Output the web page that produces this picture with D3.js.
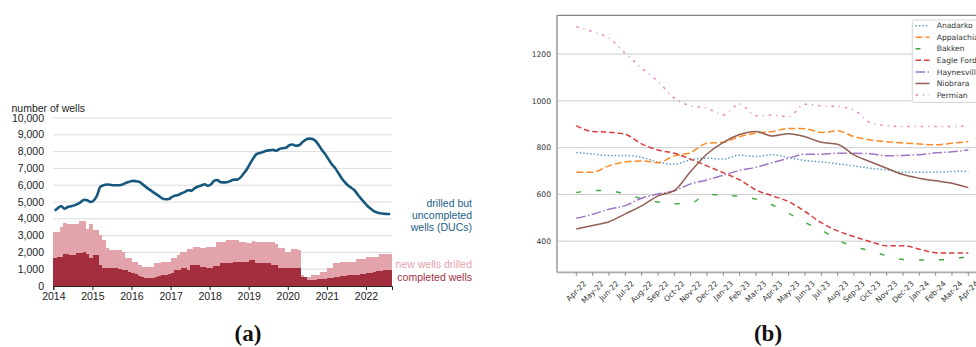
<!DOCTYPE html>
<html>
<head>
<meta charset="utf-8">
<script src="https://cdn.jsdelivr.net/npm/d3@7"></script>
<style>
  body { margin: 0; background: #fff; }
  svg { display: block; }
</style>
</head>
<body>
<svg id="chart" width="976" height="347"></svg>
<script>
// ---------- Panel (a): monthly well counts, Jan 2014 – Aug 2022 ----------
const startYear = 2014;
const yearTicks = [2014, 2015, 2016, 2017, 2018, 2019, 2020, 2021, 2022];
const wellTicks = [0, 1000, 2000, 3000, 4000, 5000, 6000, 7000, 8000, 9000, 10000];

// drilled but uncompleted wells
const ducs = [
  4480, 4650, 4760, 4600, 4700, 4750, 4800, 4880, 5000, 5130, 5110, 5000,
  5100, 5400, 5900, 6000, 6040, 6030, 6000, 6000, 6000, 6060, 6150, 6210,
  6260, 6230, 6200, 6050, 5900, 5750, 5620, 5480, 5350, 5220, 5160, 5180,
  5300, 5380, 5420, 5520, 5600, 5700, 5680, 5820, 5920, 5980, 6060, 5960,
  6050, 6280, 6300, 6180, 6170, 6180, 6250, 6330, 6330, 6450, 6700, 6950,
  7300, 7620, 7850, 7920, 7980, 8050, 8080, 8100, 8050, 8150, 8200, 8230,
  8380, 8420, 8350, 8380, 8550, 8700, 8770, 8760, 8650, 8400, 8100, 7850,
  7550, 7250, 7050, 6750, 6450, 6200, 6000, 5850, 5700, 5450, 5200, 4980,
  4760, 4600, 4460, 4380, 4330, 4300, 4290, 4280
];

// completed wells per month (lower bar)
const completed = [
  1650, 1700, 1700, 1880, 1880, 1850, 1850, 1940, 1940, 2040, 1880, 1650,
  1840, 1840, 1250, 1080, 1050, 1050, 1050, 1050, 1030, 960, 950, 860,
  760, 700, 600, 540, 460, 460, 470, 520, 600, 650, 660, 700,
  760, 950, 960, 1050, 1050, 960, 1250, 1250, 1250, 1150, 1150, 1050,
  1050, 1190, 1190, 1350, 1350, 1350, 1350, 1450, 1450, 1450, 1450, 1450,
  1550, 1550, 1350, 1350, 1390, 1390, 1390, 1250, 1250, 1090, 1090, 1050,
  1050, 1050, 1050, 1050, 560, 520, 360, 350, 360, 390, 400, 420,
  480, 500, 520, 540, 600, 620, 640, 650, 660, 670, 720, 740,
  760, 780, 850, 880, 910, 940, 950, 950
];

// new wells drilled per month (stacked on top)
const drilled = [
  1580, 1530, 1830, 1850, 1820, 1820, 1820, 1730, 1930, 1830, 1490, 2020,
  1490, 1490, 1790, 1660, 1190, 1090, 1090, 1090, 1110, 1080, 740, 830,
  690, 750, 650, 610, 690, 690, 680, 830, 750, 800, 790, 750,
  890, 700, 890, 990, 990, 1240, 950, 1090, 1090, 1090, 1090, 1290,
  1290, 1150, 1450, 1290, 1290, 1390, 1390, 1290, 1290, 1190, 1190, 1090,
  990, 1130, 1290, 1290, 1250, 1250, 1250, 1390, 1230, 1150, 1150, 990,
  990, 1130, 1130, 1090, 95, 36, 196, 305, 295, 265, 453, 433,
  572, 552, 829, 809, 848, 828, 808, 798, 788, 917, 867, 847,
  986, 966, 896, 866, 975, 945, 935, 935
];

// ---------- Panel (b): DUCs by region, Apr-22 – Apr-24 ----------
const monthLabels = [
  "Apr-22", "May-22", "Jun-22", "Jul-22", "Aug-22", "Sep-22", "Oct-22", "Nov-22", "Dec-22",
  "Jan-23", "Feb-23", "Mar-23", "Apr-23", "May-23", "Jun-23", "Jul-23", "Aug-23", "Sep-23",
  "Oct-23", "Nov-23", "Dec-23", "Jan-24", "Feb-24", "Mar-24", "Apr-24"
];
const regionTicks = [400, 600, 800, 1000, 1200];
const anadarko   = [779, 773, 766, 766, 759, 738, 729, 748, 755, 751, 768, 762, 770, 758, 745, 739, 731, 722, 712, 705, 695, 695, 695, 698, 700];
const appalachia = [695, 695, 722, 739, 743, 736, 765, 779, 819, 823, 847, 862, 869, 882, 881, 865, 872, 847, 833, 825, 820, 816, 812, 819, 825];
const bakken     = [608, 617, 616, 602, 582, 568, 560, 562, 600, 596, 592, 580, 555, 520, 480, 448, 405, 378, 358, 338, 322, 320, 320, 324, 335];
const eagleFord  = [894, 869, 866, 857, 816, 790, 776, 751, 722, 693, 662, 619, 594, 569, 527, 479, 444, 420, 398, 381, 381, 366, 351, 349, 349];
const haynesville= [498, 515, 537, 552, 584, 602, 616, 645, 662, 682, 703, 716, 736, 755, 772, 772, 776, 776, 774, 765, 767, 770, 778, 782, 790];
const niobrara   = [452, 467, 483, 517, 551, 594, 616, 698, 773, 823, 856, 869, 850, 860, 847, 823, 815, 769, 740, 712, 685, 669, 658, 648, 629];
const permian    = [1318, 1296, 1268, 1204, 1140, 1083, 1012, 979, 969, 940, 987, 936, 940, 933, 986, 979, 976, 961, 907, 894, 890, 890, 890, 890, 893];

const regionNames = ["Anadarko", "Appalachia", "Bakken", "Eagle Ford", "Haynesville", "Niobrara", "Permian"];
const regionValues = [anadarko, appalachia, bakken, eagleFord, haynesville, niobrara, permian];

const svg = d3.select("#chart");

// ===================== Panel (a) =====================
const sans = "'Liberation Sans', Arial, sans-serif";
const monthDate = (m, day = 1) => new Date(startYear, m, day);
const nMonths = ducs.length;

const xA = d3.scaleTime()
  .domain([monthDate(0), monthDate(nMonths)])
  .range([53.3, 392]);
const yA = d3.scaleLinear().domain([0, 10000]).range([286, 118]);

const gA = svg.append("g");

// horizontal gridlines
gA.append("g").selectAll("line").data(wellTicks.filter(d => d > 0)).join("line")
  .attr("x1", 53.3).attr("x2", 392)
  .attr("y1", d => yA(d)).attr("y2", d => yA(d))
  .attr("stroke", "#dcdcdc").attr("stroke-width", 1);

// y tick labels
gA.append("g").selectAll("text").data(wellTicks).join("text")
  .attr("x", 44).attr("y", d => yA(d))
  .attr("dy", "0.35em").attr("text-anchor", "end")
  .attr("font-family", sans).attr("font-size", 10.5).attr("fill", "#222")
  .text(d3.format(","));

gA.append("text")
  .attr("x", 11.5).attr("y", 111.5)
  .attr("font-family", sans).attr("font-size", 10.5).attr("fill", "#222")
  .text("number of wells");

// stacked bars: completed (bottom), new wells drilled (top)
const rows = completed.map((c, i) => ({ m: i, completed: c, drilled: drilled[i] }));
const stack = d3.stack().keys(["completed", "drilled"])(rows);
const barColors = { completed: "#a32f3e", drilled: "#e2a3ab" };

stack.forEach(layer => {
  gA.append("g").selectAll("rect").data(layer).join("rect")
    .attr("x", d => xA(monthDate(d.data.m)))
    .attr("width", d => xA(monthDate(d.data.m + 1)) - xA(monthDate(d.data.m)) + 0.4)
    .attr("y", d => yA(d[1]))
    .attr("height", d => yA(d[0]) - yA(d[1]))
    .attr("fill", barColors[layer.key])
    .attr("shape-rendering", "crispEdges");
});

// DUC line
const ducLine = d3.line()
  .x((d, i) => xA(monthDate(i, 15)))
  .y(d => yA(d))
  .curve(d3.curveMonotoneX);
gA.append("path")
  .datum(ducs)
  .attr("d", ducLine)
  .attr("fill", "none")
  .attr("stroke", "#17587f")
  .attr("stroke-width", 2.6)
  .attr("stroke-linejoin", "round");

// x axis baseline with year ticks
const axisA = gA.append("g").attr("transform", `translate(0,${yA(0)})`)
  .call(d3.axisBottom(xA)
    .tickValues(yearTicks.map(y => new Date(y, 0, 1)))
    .tickFormat(d3.timeFormat("%Y"))
    .tickSize(4).tickPadding(3));
axisA.select(".domain").attr("stroke", "#222");
axisA.selectAll(".tick line").attr("stroke", "#222");
axisA.selectAll(".tick text").attr("font-family", sans).attr("font-size", 10.5).attr("fill", "#222");

// series annotations
const annA = gA.append("g").attr("font-family", sans).attr("font-size", 10.5).attr("text-anchor", "end");
["drilled but", "uncompleted", "wells (DUCs)"].forEach((t, i) => {
  annA.append("text").attr("x", 472).attr("y", 206.5 + i * 12.3).attr("fill", "#1d5e86").text(t);
});
annA.append("text").attr("x", 472).attr("y", 268).attr("fill", "#e6a1aa").text("new wells drilled");
annA.append("text").attr("x", 472).attr("y", 281).attr("fill", "#a32f3e").text("completed wells");

// ===================== Panel (b) =====================
const mono = "'DejaVu Sans', sans-serif";
const plotL = 557, plotR = 988, plotT = 15.3, plotB = 272.3;

const xB = d3.scalePoint().domain(monthLabels).range([576.3, 968.3]);
const yB = d3.scaleLinear().domain([267, 1366]).range([plotB, plotT]);

const gB = svg.append("g");

gB.append("g").selectAll("line").data(regionTicks).join("line")
  .attr("x1", plotL).attr("x2", plotR)
  .attr("y1", d => yB(d)).attr("y2", d => yB(d))
  .attr("stroke", "#cccccc").attr("stroke-width", 1);

gB.append("g").selectAll("text").data(regionTicks).join("text")
  .attr("x", 551).attr("y", d => yB(d))
  .attr("dy", "0.35em").attr("text-anchor", "end")
  .attr("font-family", mono).attr("font-size", 7.6).attr("fill", "#333")
  .text(d => d);

// spines
gB.append("line").attr("x1", plotL).attr("x2", plotR).attr("y1", plotT).attr("y2", plotT)
  .attr("stroke", "#666").attr("stroke-width", 1);
gB.append("line").attr("x1", plotL).attr("x2", plotL).attr("y1", plotT).attr("y2", plotB)
  .attr("stroke", "#aaa").attr("stroke-width", 1.8);
gB.append("line").attr("x1", plotL).attr("x2", plotR).attr("y1", plotB).attr("y2", plotB)
  .attr("stroke", "#aaa").attr("stroke-width", 1.8);

// x ticks and rotated labels
gB.append("g").selectAll("line").data(monthLabels).join("line")
  .attr("x1", d => xB(d)).attr("x2", d => xB(d))
  .attr("y1", plotB).attr("y2", plotB + 3.5)
  .attr("stroke", "#888").attr("stroke-width", 1);

const xLabels = gB.append("g").selectAll("text").data(monthLabels).join("text")
  .attr("font-family", mono).attr("font-size", 7.6).attr("fill", "#333")
  .attr("text-anchor", "middle").attr("dominant-baseline", "central")
  .text(d => d);
xLabels.each(function (d) {
  const w = this.getComputedTextLength();
  const half = (w + 8.5) * Math.SQRT1_2 / 2;
  const cy = plotB + 7 + half;
  d3.select(this).attr("transform", `translate(${xB(d)},${cy}) rotate(-45)`);
});

// region lines
const styles = [
  { color: "#1f77b4", dash: "1.4,2.1", opacity: 0.75 },
  { color: "#ff7f0e", dash: "7,3", opacity: 0.9 },
  { color: "#2ca02c", dash: "5,15", opacity: 0.9 },
  { color: "#d62728", dash: "5.5,3", opacity: 0.9 },
  { color: "#9467bd", dash: "9.6,2.4,1.5,2.4", opacity: 0.9 },
  { color: "#8c564b", dash: null, opacity: 0.95 },
  { color: "#e377c2", dash: "2.5,5,1,5", opacity: 0.9 }
];

const lineB = d3.line()
  .x((d, i) => xB(monthLabels[i]))
  .y(d => yB(d))
  .curve(d3.curveMonotoneX);

regionValues.forEach((vals, k) => {
  gB.append("path")
    .datum(vals)
    .attr("d", lineB)
    .attr("fill", "none")
    .attr("stroke", styles[k].color)
    .attr("stroke-opacity", styles[k].opacity)
    .attr("stroke-width", 1.5)
    .attr("stroke-dasharray", styles[k].dash);
});

// legend
const leg = gB.append("g");
leg.append("rect")
  .attr("x", 912.3).attr("y", 20).attr("width", 90).attr("height", 82.5)
  .attr("rx", 2).attr("fill", "#fff").attr("fill-opacity", 0.85)
  .attr("stroke", "#d5d5d5").attr("stroke-width", 1);
regionNames.forEach((name, k) => {
  const yy = 25.7 + k * 11.55;
  leg.append("line")
    .attr("x1", 915.5).attr("x2", 929.5).attr("y1", yy).attr("y2", yy)
    .attr("stroke", styles[k].color).attr("stroke-opacity", styles[k].opacity)
    .attr("stroke-width", 1.5).attr("stroke-dasharray", styles[k].dash);
  leg.append("text")
    .attr("x", 936.7).attr("y", yy).attr("dy", "0.35em")
    .attr("font-family", mono).attr("font-size", 7.6).attr("fill", "#333")
    .text(name);
});

// panel captions
const serif = "'Liberation Serif', 'Times New Roman', serif";
svg.append("text").attr("x", 248).attr("y", 341).attr("text-anchor", "middle")
  .attr("font-family", serif).attr("font-weight", "bold").attr("font-size", 23).attr("fill", "#111")
  .text("(a)");
svg.append("text").attr("x", 768).attr("y", 341).attr("text-anchor", "middle")
  .attr("font-family", serif).attr("font-weight", "bold").attr("font-size", 23).attr("fill", "#111")
  .text("(b)");
</script>
</body>
</html>
